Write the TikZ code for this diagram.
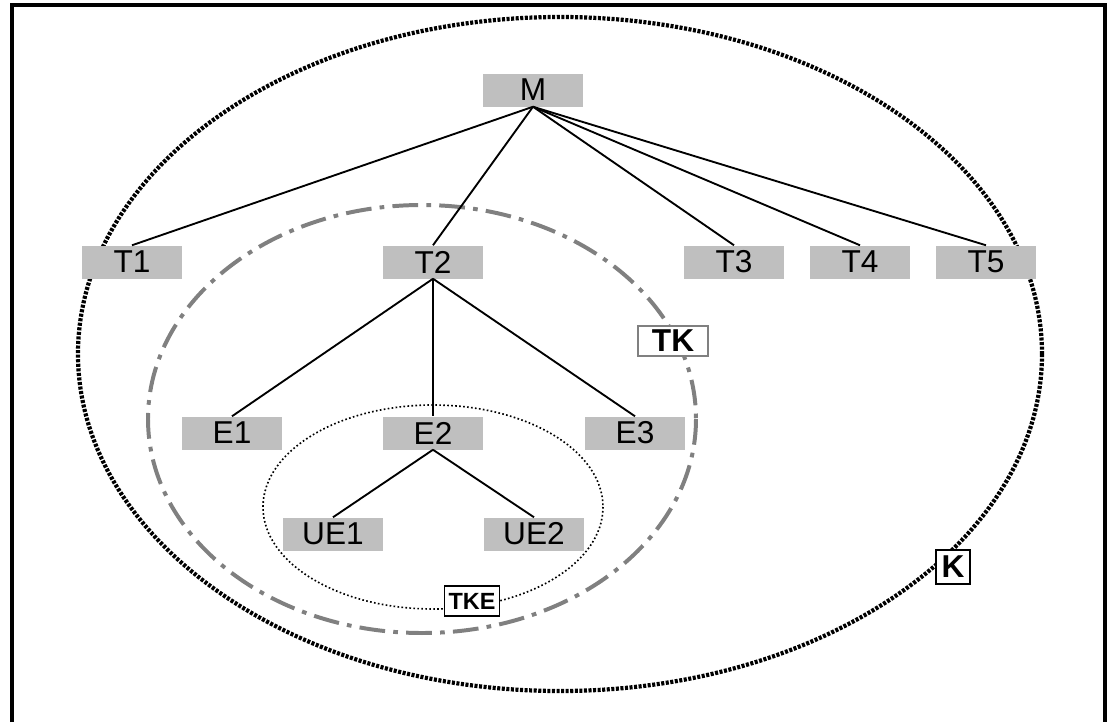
\documentclass[tikz,border=0pt]{standalone}
\usepackage{fontspec}
\setmainfont{Liberation Sans}
\tikzset{
  unit/.style={fill=black!25, minimum width=3cm, minimum height=0.99cm, inner sep=0pt, font=\fontsize{27}{30}\selectfont},
  tag/.style={draw, fill=white, line width=1.6pt, inner sep=3pt, minimum height=0.9cm, font=\fontsize{27}{30}\selectfont\bfseries},
  link/.style={line width=1.6pt}
}
\begin{document}
\begin{tikzpicture}[x=0.03cm, y=-0.03cm]
          \useasboundingbox (0, 0) rectangle (1111, 722);
          \draw [line width=3.4pt] (12, 722) -- (12, 5) -- (1105, 5) -- (1105, 722);
          % scopes
          \draw [line width=3.6pt, dash pattern=on 2.6pt off 1.3pt] (560, 354) ellipse [x radius=482, y radius=337];
          \draw [line width=3.4pt, gray, dash pattern=on 22pt off 7pt on 4pt off 7pt] (422, 419) ellipse [x radius=274, y radius=214];
          \draw [line width=1.4pt, dotted] (433, 507) ellipse [x radius=170, y radius=102];
          % units
          \node [unit] (M) at (533, 90) {M};
          \node [unit] (T1) at (132, 262) {T1};
          \node [unit] (T2) at (433, 262) {T2};
          \node [unit] (T3) at (734, 262) {T3};
          \node [unit] (T4) at (860, 262) {T4};
          \node [unit] (T5) at (986, 262) {T5};
          \node [unit] (E1) at (232, 433) {E1};
          \node [unit] (E2) at (433, 433) {E2};
          \node [unit] (E3) at (635, 433) {E3};
          \node [unit] (UE1) at (333, 534) {UE1};
          \node [unit] (UE2) at (534, 534) {UE2};
          \foreach \t in {T1, T2, T3, T4, T5}
            \draw [link] (M.south) -- (\t.north);
          \foreach \e in {E1, E2, E3}
            \draw [link] (T2.south) -- (\e.north);
          \draw [link] (E2.south) -- (UE1.north);
          \draw [link] (E2.south) -- (UE2.north);
          % labels
          \node [tag, draw=gray, minimum width=2.1cm] (TK) at (673, 341) {TK};
          \node [tag, minimum width=1.65cm, inner sep=1pt, font=\fontsize{20}{24}\selectfont\bfseries] (TKE) at (472, 601) {TKE};
          \node [tag, minimum width=1.02cm, minimum height=1.02cm, inner sep=1pt] (K) at (953, 567) {K};
        \end{tikzpicture}
\end{document}
